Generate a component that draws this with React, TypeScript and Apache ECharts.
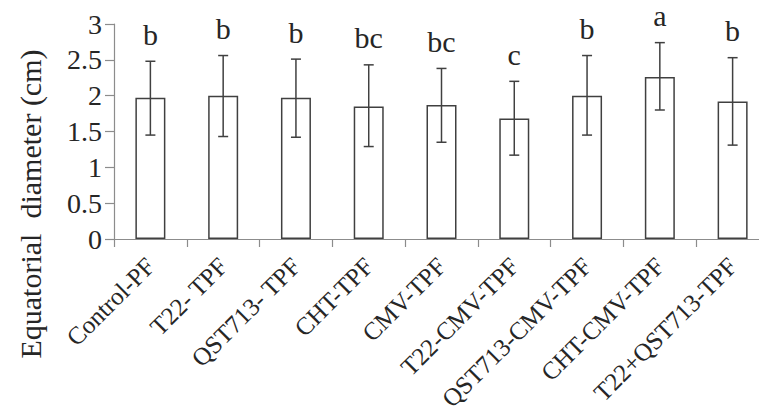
import React, { useEffect, useRef } from "react";
import * as echarts from "echarts";

const categories = [
  "Control-PF",
  "T22- TPF",
  "QST713- TPF",
  "CHT-TPF",
  "CMV-TPF",
  "T22-CMV-TPF",
  "QST713-CMV-TPF",
  "CHT-CMV-TPF",
  "T22+QST713-TPF",
];
const means = [1.97, 2.0, 1.97, 1.85, 1.87, 1.68, 2.0, 2.26, 1.92];
const upper = [2.48, 2.56, 2.51, 2.43, 2.38, 2.2, 2.56, 2.74, 2.53];
const lower = [1.45, 1.43, 1.42, 1.29, 1.35, 1.17, 1.45, 1.8, 1.31];
const letters = ["b", "b", "b", "bc", "bc", "c", "b", "a", "b"];
const yTitle = "Equatorial  diameter (cm)";

const FAMILY = "Liberation Serif";
const INK = "#262626";
const AXIS = "#8c8c8c";
const BAR = "#404040";

export default function App() {
  const ref = useRef<HTMLDivElement>(null);
  useEffect(() => {
    if (!ref.current) return;
    const chart = echarts.init(ref.current, undefined, { renderer: "svg" });
    chart.setOption({
      animation: false,
      backgroundColor: "#ffffff",
      textStyle: { fontFamily: FAMILY },
      grid: {
        left: 114,
        top: 24,
        bottom: 169,
        right: -10,
        containLabel: false,
        outerBoundsMode: "none",
      },
      graphic: [
        {
          type: "text",
          x: 30,
          y: 204,
          rotation: Math.PI / 2,
          style: {
            text: yTitle,
            font: "30px 'Liberation Serif'",
            fill: INK,
            align: "center",
            verticalAlign: "middle",
          },
        },
      ],
      xAxis: {
        type: "category",
        data: categories,
        boundaryGap: true,
        axisLine: { show: true, lineStyle: { color: AXIS, width: 1.2 } },
        axisTick: { show: true, length: 8, alignWithLabel: false, lineStyle: { color: AXIS, width: 1.2 } },
        axisLabel: {
          interval: 0,
          rotate: 45,
          margin: 23,
          fontFamily: FAMILY,
          fontSize: 25,
          color: INK,
        },
        splitLine: { show: false },
      },
      yAxis: {
        type: "value",
        min: 0,
        max: 3,
        interval: 0.5,
        axisLine: { show: true, lineStyle: { color: AXIS, width: 1.2 } },
        axisTick: { show: true, length: 9, lineStyle: { color: AXIS, width: 1.2 } },
        axisLabel: { margin: 12, fontFamily: FAMILY, fontSize: 28, color: INK },
        splitLine: { show: false },
      },
      series: [
        {
          type: "bar",
          data: means,
          barWidth: 30,
          itemStyle: { color: "#ffffff", borderColor: BAR, borderWidth: 1.5 },
          z: 2,
        },
        {
          type: "custom",
          z: 3,
          encode: { x: 0, y: [1, 2] },
          data: categories.map((_, i) => [i, lower[i], upper[i]]),
          renderItem: (params: any, api: any) => {
            const i = api.value(0);
            const top = api.coord([i, api.value(2)]);
            const bot = api.coord([i, api.value(1)]);
            const half = 5;
            const ls = { stroke: BAR, lineWidth: 1.5 };
            return {
              type: "group",
              children: [
                { type: "line", shape: { x1: top[0], y1: top[1], x2: bot[0], y2: bot[1] }, style: ls },
                { type: "line", shape: { x1: top[0] - half, y1: top[1], x2: top[0] + half, y2: top[1] }, style: ls },
                { type: "line", shape: { x1: bot[0] - half, y1: bot[1], x2: bot[0] + half, y2: bot[1] }, style: ls },
                {
                  type: "text",
                  x: top[0],
                  y: top[1] - 27,
                  style: {
                    text: letters[params.dataIndex],
                    font: "30px 'Liberation Serif'",
                    fill: INK,
                    align: "center",
                    verticalAlign: "middle",
                  },
                },
              ],
            };
          },
        },
      ],
    });
    return () => chart.dispose();
  }, []);
  return (
    <div
      ref={ref}
      style={{ position: "fixed", left: 0, top: 0, width: 759, height: 408, background: "#fff" }}
    />
  );
}
